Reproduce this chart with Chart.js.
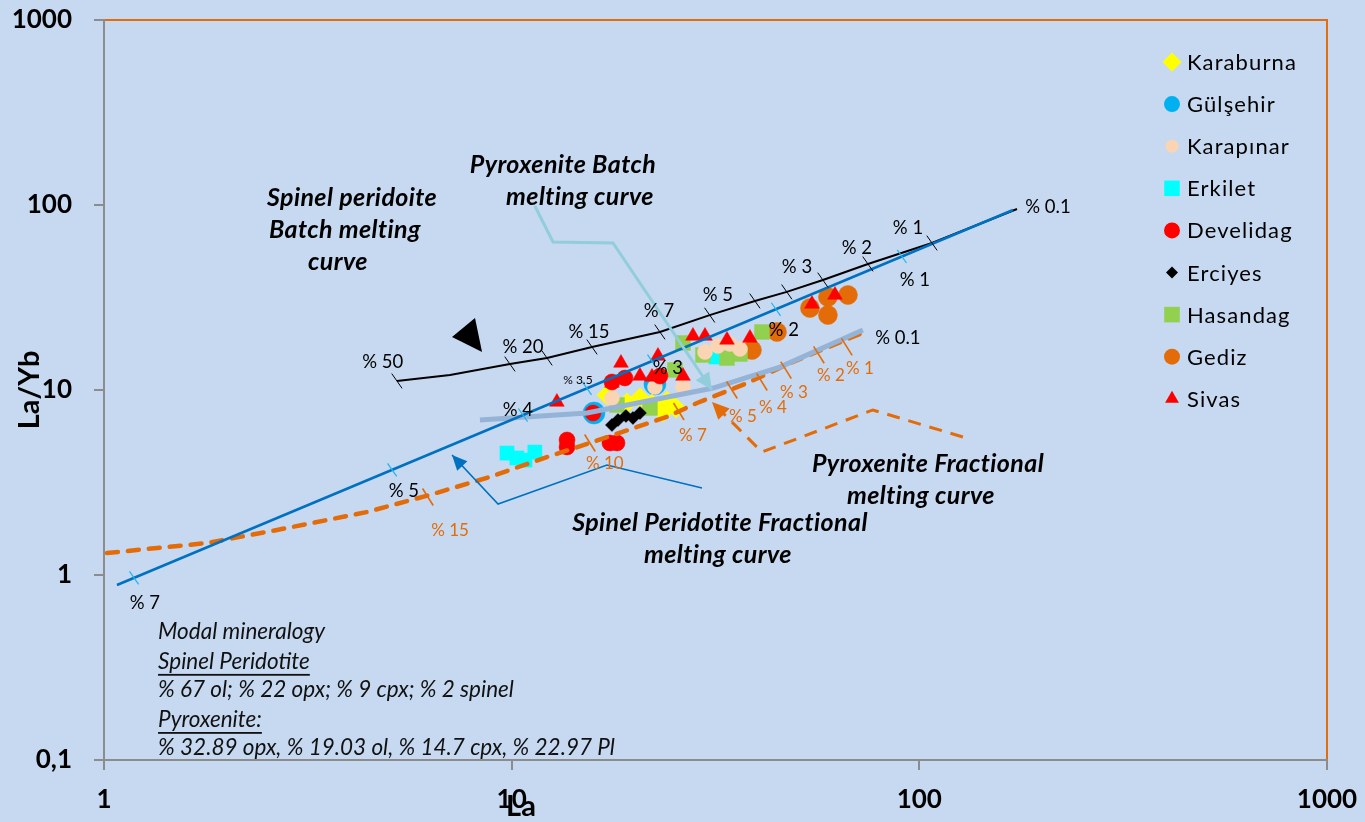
<!DOCTYPE html>
<html><head><meta charset="utf-8">
<script src="https://cdn.jsdelivr.net/npm/chart.js@4.4.1/dist/chart.umd.min.js"></script>
<style>html,body{margin:0;padding:0;background:#C6D9F1;}#wrap{width:1365px;height:822px;position:relative;}</style>
</head><body><div id="wrap"><canvas id="c"></canvas></div>
<script>
// ---------- axis ticks ----------
const xTicks = [1, 10, 100, 1000];
const xTickLabels = ['1', '10', '100', '1000'];
const yTicks = [0.1, 1, 10, 100, 1000];
const yTickLabels = ['0,1', '1', '10', '100', '1000'];

// ---------- samples (La, La/Yb) ----------
const karaburnaLa   = [17.13, 19.18, 20.64, 22.09, 24.04, 25.29, 23.50];
const karaburnaLaYb = [9.40, 8.51, 9.05, 8.40, 8.72, 7.99, 7.60];
const gulsehirLa    = [15.92, 22.46];
const gulsehirLaYb  = [7.51, 10.78];
const karapinarLa   = [17.62, 22.46, 26.32, 29.80, 32.06, 34.30, 36.31];
const karapinarLaYb = [9.05, 10.38, 10.38, 16.05, 17.29, 17.73, 16.66];
const erkiletLa     = [9.74, 10.30, 10.78, 11.40, 31.70];
const erkiletLaYb   = [4.56, 4.29, 4.18, 4.62, 15.08];
const develidagLa   = [13.67, 13.67, 15.83, 17.42, 18.13, 17.62, 18.96, 23.11];
const develidagLaYb = [5.37, 4.92, 7.51, 5.17, 5.17, 11.05, 11.61, 11.90];
const erciyesLa     = [17.62, 18.23, 19.07, 19.84, 20.64];
const erciyesLaYb   = [6.47, 6.88, 7.24, 7.06, 7.51];
const hasandagLa    = [18.13, 21.84, 25.15, 26.32, 29.46, 33.74, 36.31, 41.11];
const hasandagLaYb  = [8.30, 7.99, 12.83, 17.95, 15.46, 14.89, 15.65, 20.59];
const gedizLa       = [53.91, 59.67, 59.67, 66.82, 44.75, 38.85];
const gedizLaYb     = [27.75, 31.82, 25.43, 32.62, 20.59, 16.45];
const sivasLa       = [12.91, 17.62, 18.54, 20.64, 22.09, 22.85, 26.32, 27.84, 29.80, 33.74, 38.41, 54.52, 62.09];
const sivasLaYb     = [8.61, 10.91, 13.99, 11.90, 11.76, 15.27, 11.90, 19.58, 19.58, 18.64, 19.10, 29.16, 32.62];

// ---------- model curves ----------
const spBatchLa   = [5.23, 7.06, 9.90, 12.21, 15.74, 23.1, 30.6, 39.5, 47.3, 58.0, 74.8, 107.4, 173.6];
const spBatchLaYb = [11.19, 12.05, 13.82, 14.89, 17.08, 20.59, 25.4, 30.3, 33.9, 39.3, 48.0, 62.3, 95.1];
const spBatchTickLa   = [5.23, 9.90, 12.21, 15.74, 23.1, 30.6, 39.5, 47.3, 58.0, 74.8, 107.4];
const spBatchTickLaYb = [11.19, 13.82, 14.89, 17.08, 20.59, 25.4, 30.3, 33.9, 39.3, 48.0, 62.3];

const spFracLa   = [1.076, 169.7];
const spFracLaYb = [0.883, 93.97];
const spFracTickLa   = [1.185, 5.09, 10.66, 15.3, 22.1, 44.5, 90.6];
const spFracTickLaYb = [0.965, 3.70, 7.32, 10.2, 14.3, 27.3, 52.7];

const pxBatchLa   = [8.36, 15.3, 31.2, 45.5, 72.7];
const pxBatchLaYb = [6.88, 7.51, 10.25, 13.3, 21.1];

const pxFracLa   = [1.017, 1.789, 2.657, 4.42, 6.30, 8.85, 12.2, 15.56, 24.0, 28.5, 37.8, 49.0, 71.5];
const pxFracLaYb = [1.315, 1.489, 1.751, 2.19, 2.71, 3.39, 4.34, 5.17, 7.15, 8.51, 10.9, 14.2, 20.1];
const pxFracTickLa   = [6.23, 15.56, 25.7, 34.7, 41.1, 47.1, 56.7, 66.4];
const pxFracTickLaYb = [2.64, 5.17, 7.65, 10.0, 11.05, 12.8, 15.5, 17.1];

// ---------- annotation pointers (data coordinates) ----------
const arrowPxBatchLa   = [11.40, 12.63, 17.72, 31.0];
const arrowPxBatchLaYb = [98.8, 63.1, 62.3, 10.0];
const arrowSpFracLa    = [29.3, 17.13, 9.26, 7.14];
const arrowSpFracLaYb  = [2.95, 3.93, 2.42, 4.45];
const arrowPxFracLa    = [127.9, 76.9, 41.1, 31.0];
const arrowPxFracLaYb  = [5.57, 7.80, 4.62, 8.61];
const pointerTriLa     = [7.14, 8.13, 8.46];
const pointerTriLaYb   = [19.34, 24.5, 16.05];

// ---------- curve labels (text, La, La/Yb) ----------
const spBatchLabels = [['% 50', 4.83, 14.17], ['% 20', 10.66, 17.08], ['% 15', 15.47, 20.59], ['% 7', 22.98, 26.73],
  ['% 5', 32.06, 32.62], ['% 3', 50.1, 46.2], ['% 2', 70.3, 58.6], ['% 1', 93.8, 75.1], ['% 0.1', 206.8, 97.5]];
const spFracLabels = [['% 7', 1.26, 0.706], ['% 5', 5.44, 2.85], ['% 4', 10.36, 7.80], ['% 3', 24.17, 13.15],
  ['% 2', 46.5, 21.1], ['% 1', 97.5, 39.3], ['% 0.1', 88.6, 19.1]];
const spFracSmallLabels = [['% 3.5', 14.54, 11.33]];
const pxFracLabels = [['% 15', 7.06, 1.75], ['% 10', 16.93, 4.03], ['% 7', 27.84, 5.71], ['% 5', 36.93, 7.15],
  ['% 4', 43.74, 8.09], ['% 3', 49.25, 9.75], ['% 2', 60.7, 12.05], ['% 1', 71.5, 12.99]];
const titleLabels = [['Spinel peridoite', 4.06, 109.1], ['Batch melting', 3.90, 73.3], ['curve', 3.75, 49.2],
  ['Pyroxenite Batch', 13.36, 164.5], ['melting curve', 14.71, 110.5],
  ['Pyroxenite Fractional', 105.0, 3.98], ['melting curve', 100.9, 2.67],
  ['Spinel Peridotite Fractional', 32.43, 1.91], ['melting curve', 32.06, 1.28]];
const modalLines = [['Modal mineralogy', false], ['Spinel Peridotite', true], ['% 67 ol; % 22 opx; % 9 cpx; % 2 spinel', false],
  ['Pyroxenite:', true], ['% 32.89 opx, % 19.03 ol, % 14.7 cpx, % 22.97 Pl', false]];
const modalLa = 1.357;
const modalLaYb = [0.492, 0.339, 0.239, 0.1645, 0.1161];

// ---------- build ----------
const zip = (a, b) => a.map((v, i) => ({x: v, y: b[i]}));
const BG = '#C6D9F1';
const ORANGE = '#E46C0A';

const groups = [
  {label: 'Karaburna', la: karaburnaLa, lb: karaburnaLaYb, style: 'rectRot', color: '#FFFF00', r: 10, lr: 9.5, order: 8},
  {label: 'Gülşehir',  la: gulsehirLa,  lb: gulsehirLaYb,  style: 'circle',  color: '#00B0F0', r: 11, lr: 8, order: 9},
  {label: 'Karapınar', la: karapinarLa, lb: karapinarLaYb, style: 'circle',  color: '#FBD4B4', r: 7.5, lr: 6.5, order: 3},
  {label: 'Erkilet',   la: erkiletLa,   lb: erkiletLaYb,   style: 'rect',    color: '#00FFFF', r: 10, lr: 11, order: 6},
  {label: 'Develidag', la: develidagLa, lb: develidagLaYb, style: 'circle',  color: '#FF0000', r: 8, lr: 8, order: 2},
  {label: 'Erciyes',   la: erciyesLa,   lb: erciyesLaYb,   style: 'rectRot', color: '#000000', r: 6.5, lr: 6, order: 4},
  {label: 'Hasandag',  la: hasandagLa,  lb: hasandagLaYb,  style: 'rect',    color: '#92D050', r: 10.5, lr: 11, order: 5},
  {label: 'Gediz',     la: gedizLa,     lb: gedizLaYb,     style: 'circle',  color: '#E36C09', r: 9.5, lr: 8, order: 7},
  {label: 'Sivas',     la: sivasLa,     lb: sivasLaYb,     style: 'triangle',color: '#FF0000', r: 8.5, lr: 8, order: 1}
];

const datasets = [];
groups.forEach(g => datasets.push({
  label: g.label, data: zip(g.la, g.lb), order: g.order + 10,
  pointStyle: g.style, pointRadius: g.r, pointBackgroundColor: g.color,
  pointBorderColor: g.color, pointBorderWidth: 0.5, showLine: false
}));

function lineDs(la, lb, color, width, extra) {
  return Object.assign({data: zip(la, lb), showLine: true, pointRadius: 0, borderColor: color,
    borderWidth: width, tension: 0, fill: false, order: 2}, extra || {});
}
function tickDs(la, lb, color, r, rot, w) {
  return {data: zip(la, lb), showLine: false, pointStyle: 'line', pointRadius: r, pointRotation: rot,
    pointBorderColor: color, pointBackgroundColor: color, pointBorderWidth: w, order: 1};
}

datasets.push(lineDs(pxBatchLa, pxBatchLaYb, '#95B3D7', 5, {order: 3}));
datasets.push(lineDs(pxFracLa, pxFracLaYb, '#E36C09', 4.5, {borderDash: [11, 10], borderCapStyle: 'round', order: 3}));
datasets.push(lineDs(spFracLa, spFracLaYb, '#0070C0', 2.5));
datasets.push(lineDs(spBatchLa, spBatchLaYb, '#000000', 2));
datasets.push(tickDs(spBatchTickLa, spBatchTickLaYb, '#000000', 9, 55, 1));
datasets.push(tickDs(spFracTickLa, spFracTickLaYb, '#1EB4F0', 8, 55, 1.2));
datasets.push(tickDs(pxFracTickLa, pxFracTickLaYb, '#E36C09', 10, 58, 1.6));
datasets.push(lineDs(arrowPxBatchLa, arrowPxBatchLaYb, '#92CDDC', 3, {arrowHead: {len: 17, wid: 8}, order: 0}));
datasets.push(lineDs(arrowSpFracLa, arrowSpFracLaYb, '#0070C0', 1.6, {arrowHead: {len: 15, wid: 7}, order: 0}));
datasets.push(lineDs(arrowPxFracLa, arrowPxFracLaYb, '#E36C09', 3, {borderDash: [13, 9], arrowHead: {len: 17, wid: 8}, order: 0}));

function drawMarker(ctx, style, x, y, r, color) {
  ctx.save(); ctx.fillStyle = color; ctx.beginPath();
  if (style === 'circle') ctx.arc(x, y, r, 0, Math.PI * 2);
  else if (style === 'rectRot') { ctx.moveTo(x, y - r); ctx.lineTo(x + r, y); ctx.lineTo(x, y + r); ctx.lineTo(x - r, y); ctx.closePath(); }
  else if (style === 'rect') { const s = r * Math.SQRT1_2; ctx.rect(x - s, y - s, 2 * s, 2 * s); }
  else if (style === 'triangle') { for (let k = 0; k < 3; k++) { const a = -Math.PI / 2 + k * 2 * Math.PI / 3; const px = x + r * Math.cos(a), py = y + r * Math.sin(a); k ? ctx.lineTo(px, py) : ctx.moveTo(px, py); } ctx.closePath(); }
  ctx.fill(); ctx.restore();
}

const annot = {
  id: 'annot',
  beforeDraw(chart) {
    const c = chart.ctx; c.save(); c.fillStyle = BG; c.fillRect(0, 0, chart.width, chart.height); c.restore();
  },
  afterDatasetsDraw(chart) {
    const c = chart.ctx, sx = chart.scales.x, sy = chart.scales.y;
    chart.data.datasets.forEach(ds => {
      if (!ds.arrowHead) return;
      const n = ds.data.length, p1 = ds.data[n - 2], p2 = ds.data[n - 1];
      const x1 = sx.getPixelForValue(p1.x), y1 = sy.getPixelForValue(p1.y);
      const x2 = sx.getPixelForValue(p2.x), y2 = sy.getPixelForValue(p2.y);
      const a = Math.atan2(y2 - y1, x2 - x1), L = ds.arrowHead.len, W = ds.arrowHead.wid;
      c.save(); c.fillStyle = ds.borderColor; c.beginPath();
      c.moveTo(x2, y2);
      c.lineTo(x2 - L * Math.cos(a) + W * Math.sin(a), y2 - L * Math.sin(a) - W * Math.cos(a));
      c.lineTo(x2 - L * Math.cos(a) - W * Math.sin(a), y2 - L * Math.sin(a) + W * Math.cos(a));
      c.closePath(); c.fill(); c.restore();
    });
  },
  afterDraw(chart) {
    const c = chart.ctx, sx = chart.scales.x, sy = chart.scales.y, A = chart.chartArea;
    const X = v => sx.getPixelForValue(v), Y = v => sy.getPixelForValue(v);
    c.save();
    // frame top/right
    c.strokeStyle = ORANGE; c.lineWidth = 2; c.beginPath();
    c.moveTo(A.left + 1, A.top); c.lineTo(A.right, A.top); c.lineTo(A.right, A.bottom - 1); c.stroke();
    // pointer triangle
    c.fillStyle = '#000'; c.beginPath();
    pointerTriLa.forEach((v, i) => { const px = X(v), py = Y(pointerTriLaYb[i]); i ? c.lineTo(px, py) : c.moveTo(px, py); });
    c.closePath(); c.fill();
    // labels
    c.textAlign = 'center'; c.textBaseline = 'middle';
    c.fillStyle = '#000'; c.font = '18.5px Lato';
    spBatchLabels.concat(spFracLabels).forEach(l => c.fillText(l[0], X(l[1]), Y(l[2])));
    c.font = '12px Lato';
    spFracSmallLabels.forEach(l => c.fillText(l[0], X(l[1]), Y(l[2])));
    c.fillStyle = '#E36C09'; c.font = '17px Lato';
    pxFracLabels.forEach(l => c.fillText(l[0], X(l[1]), Y(l[2])));
    c.fillStyle = '#000'; c.font = 'italic bold 25px Lato'; c.letterSpacing = '0.4px';
    titleLabels.forEach(l => c.fillText(l[0], X(l[1]), Y(l[2])));
    c.letterSpacing = '0px';
    // modal mineralogy
    c.textAlign = 'left'; c.font = 'italic 22.5px Lato'; c.fillStyle = '#111';
    modalLines.forEach((l, i) => {
      const x = X(modalLa), y = Y(modalLaYb[i]);
      c.fillText(l[0], x, y);
      if (l[1]) { const w = c.measureText(l[0]).width; c.fillRect(x, y + 12, w, 1.8); }
    });
    // axis titles
    c.font = 'bold 29px Lato'; c.textAlign = 'center'; c.fillStyle = '#000';
    c.fillText('La', 521, 807);
    c.save(); c.translate(30, (A.top + A.bottom) / 2); c.rotate(-Math.PI / 2); c.fillText('La/Yb', 0, 0); c.restore();
    // legend
    c.font = '22px Lato'; c.textAlign = 'left'; c.letterSpacing = '1.1px';
    const lx = A.right - 155, ly = A.top + 42;
    groups.forEach((g, i) => {
      const y = ly + i * 42.1;
      drawMarker(c, g.style, lx, y, g.lr, g.color);
      c.fillStyle = '#000'; c.fillText(g.label, lx + 15, y + 1);
    });
    c.letterSpacing = '0px';
    c.restore();
  }
};

const tickFont = {family: 'Lato', size: 26, weight: 'bold'};
new Chart(document.getElementById('c'), {
  type: 'scatter',
  data: {datasets},
  plugins: [annot],
  options: {
    responsive: true, maintainAspectRatio: false, animation: false, devicePixelRatio: 1,
    layout: {padding: {left: 0, right: 38, top: 20, bottom: 0}},
    plugins: {legend: {display: false}, tooltip: {enabled: false}},
    scales: {
      x: {
        type: 'logarithmic', min: 1, max: 1000,
        afterBuildTicks: s => { s.ticks = xTicks.map(v => ({value: v})); },
        afterFit: s => { s.height = 62; s.paddingLeft = 0; s.paddingRight = 0; },
        ticks: {callback: v => xTickLabels[xTicks.indexOf(v)], font: tickFont, color: '#000', padding: 14, maxRotation: 0, autoSkip: false},
        grid: {drawOnChartArea: false, tickLength: 10, color: '#8C8C8C', lineWidth: 2},
        border: {color: '#8C8C8C', width: 2}
      },
      y: {
        type: 'logarithmic', min: 0.1, max: 1000,
        afterBuildTicks: s => { s.ticks = yTicks.map(v => ({value: v})); },
        afterFit: s => { s.width = 104; s.paddingTop = 0; s.paddingBottom = 0; },
        ticks: {callback: v => yTickLabels[yTicks.indexOf(v)], font: tickFont, color: '#000', padding: 22, autoSkip: false},
        grid: {drawOnChartArea: false, tickLength: 10, color: '#8C8C8C', lineWidth: 2},
        border: {color: '#8C8C8C', width: 2}
      }
    }
  }
});
</script></body></html>
